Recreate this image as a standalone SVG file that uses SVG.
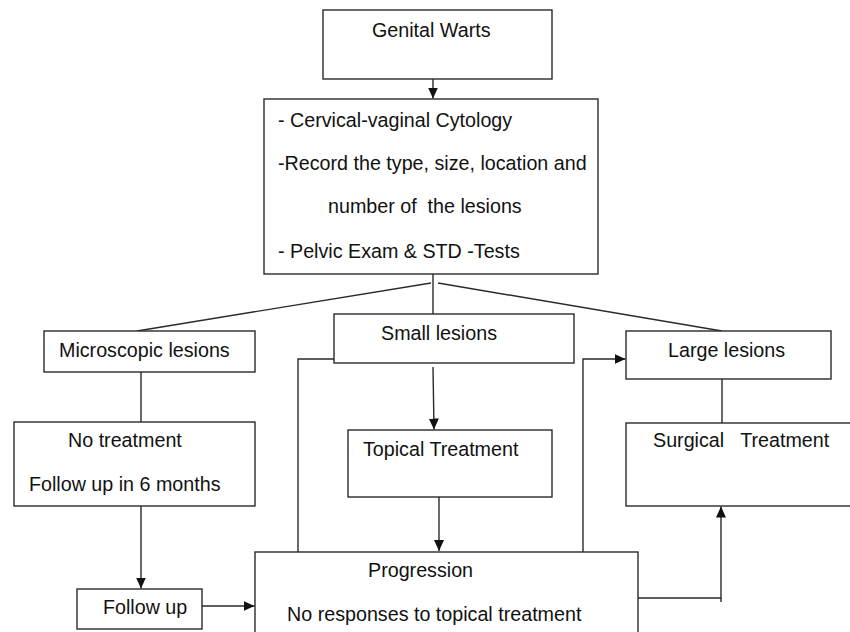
<svg xmlns="http://www.w3.org/2000/svg" width="850" height="632" viewBox="0 0 850 632">
<style>
  .box { fill: #fff; stroke: #2a2a2a; stroke-width: 1.4; }
  .ln { fill: none; stroke: #2a2a2a; stroke-width: 1.4; }
  .t { font-family: "Liberation Sans", Arial, sans-serif; font-size: 19.7px; fill: #111; white-space: pre; }
</style>
<defs>
  <marker id="ah" markerUnits="userSpaceOnUse" markerWidth="12" markerHeight="10" refX="11" refY="5" orient="auto">
    <path d="M0,0 L11,5 L0,10 Z" fill="#111"/>
  </marker>
</defs>
<rect width="850" height="632" fill="#fff"/>

<g id="connectors">
  <line class="ln" x1="433" y1="79" x2="433" y2="98.5" marker-end="url(#ah)"/>
  <line class="ln" x1="433" y1="274" x2="433" y2="314"/>
  <line class="ln" x1="431" y1="283" x2="137" y2="331"/>
  <line class="ln" x1="438" y1="283" x2="722" y2="331"/>
  <line class="ln" x1="141" y1="372" x2="141" y2="422"/>
  <line class="ln" x1="141" y1="506" x2="141" y2="588.5" marker-end="url(#ah)"/>
  <line class="ln" x1="202" y1="606" x2="254.5" y2="606" marker-end="url(#ah)"/>
  <line class="ln" x1="433" y1="367" x2="434" y2="429.5" marker-end="url(#ah)"/>
  <line class="ln" x1="439" y1="497" x2="439" y2="551" marker-end="url(#ah)"/>
  <polyline class="ln" points="334,359 298,359 298,552"/>
  <polyline class="ln" points="583,552 583,359 625.5,359" marker-end="url(#ah)"/>
  <polyline class="ln" points="638,598 721,598 721,506.5" marker-end="url(#ah)"/>
  <line class="ln" x1="721" y1="598" x2="721" y2="602"/>
  <line class="ln" x1="722" y1="379" x2="722" y2="423"/>
</g>

<g id="genital-warts">
  <rect class="box" x="323" y="10" width="229" height="69"/>
  <text class="t" x="372" y="37">Genital Warts</text>
</g>

<g id="assessment">
  <rect class="box" x="264" y="99" width="334" height="175"/>
  <text class="t" x="278" y="127">- Cervical-vaginal Cytology</text>
  <text class="t" x="278" y="170">-Record the type, size, location and</text>
  <text class="t" x="328" y="213" xml:space="preserve">number of  the lesions</text>
  <text class="t" x="278" y="258">- Pelvic Exam &amp; STD -Tests</text>
</g>

<g id="microscopic">
  <rect class="box" x="44" y="331" width="211" height="41"/>
  <text class="t" x="59" y="357">Microscopic lesions</text>
</g>

<g id="small">
  <rect class="box" x="334" y="314" width="240" height="49"/>
  <text class="t" x="381" y="340">Small lesions</text>
</g>

<g id="large">
  <rect class="box" x="626" y="331" width="205" height="48"/>
  <text class="t" x="668" y="357">Large lesions</text>
</g>

<g id="no-treatment">
  <rect class="box" x="14" y="422" width="241" height="84"/>
  <text class="t" x="68" y="447">No treatment</text>
  <text class="t" x="29" y="491">Follow up in 6 months</text>
</g>

<g id="topical">
  <rect class="box" x="348" y="430" width="204" height="67"/>
  <text class="t" x="363" y="456">Topical Treatment</text>
</g>

<g id="surgical">
  <rect class="box" x="626" y="423" width="240" height="83"/>
  <text class="t" x="653" y="447" xml:space="preserve">Surgical   Treatment</text>
</g>

<g id="follow-up">
  <rect class="box" x="77" y="589" width="125" height="40"/>
  <text class="t" x="103" y="614">Follow up</text>
</g>

<g id="progression">
  <rect class="box" x="255" y="552" width="383" height="100"/>
  <text class="t" x="368" y="577">Progression</text>
  <text class="t" x="287" y="621">No responses to topical treatment</text>
</g>
</svg>
